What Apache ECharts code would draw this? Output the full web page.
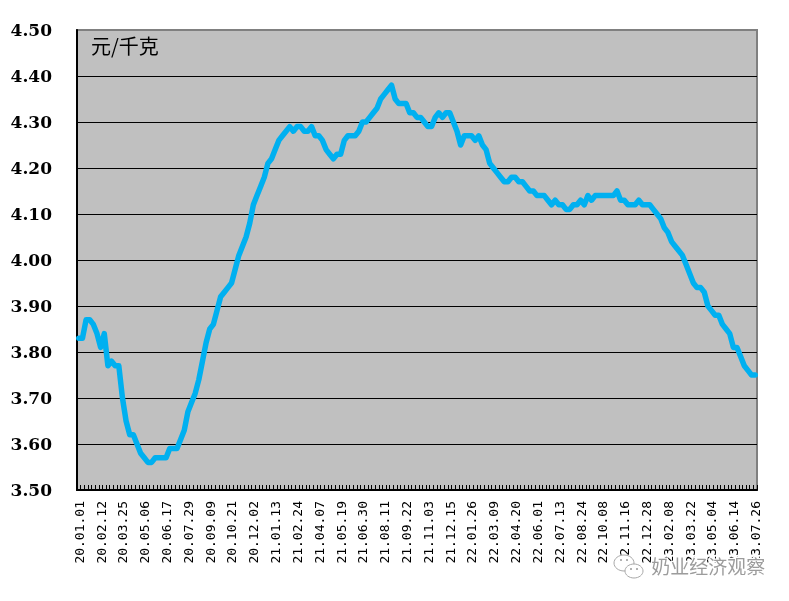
<!DOCTYPE html>
<html><head><meta charset="utf-8">
<style>html,body{margin:0;padding:0;background:#fff}#c{width:789px;height:601px}</style>
<script src="https://cdn.jsdelivr.net/npm/echarts@6/dist/echarts.min.js"></script>
</head><body><div id="c"></div>
<script>
const unitLabel = '元/千克';
const watermark = '奶业经济观察';
const tickLabels = ['20.01.01','20.02.12','20.03.25','20.05.06','20.06.17','20.07.29','20.09.09','20.10.21','20.12.02','21.01.13','21.02.24','21.04.07','21.05.19','21.06.30','21.08.11','21.09.22','21.11.03','21.12.15','22.01.26','22.03.09','22.04.20','22.06.01','22.07.13','22.08.24','22.10.08','22.11.16','22.12.28','23.02.08','23.03.22','23.05.04','23.06.14','23.07.26'];
const prices = [
3.83,3.83,3.87,3.87,3.86,3.84,3.81,3.84,3.77,3.78,3.77,3.77,3.70,3.65,3.62,3.62,3.60,3.58,3.57,3.56,3.56,3.57,3.57,3.57,3.57,3.59,3.59,3.59,3.61,3.63,3.67,3.69,3.71,3.74,3.78,3.82,3.85,3.86,3.89,
3.92,3.93,3.94,3.95,3.98,4.01,4.03,4.05,4.08,4.12,4.14,4.16,4.18,4.21,4.22,4.24,4.26,4.27,4.28,4.29,4.28,4.29,4.29,4.28,4.28,4.29,4.27,4.27,4.26,4.24,4.23,4.22,4.23,4.23,4.26,4.27,4.27,4.27,4.28,4.30,4.30,4.31,4.32,4.33,4.35,4.36,4.37,4.38,4.35,4.34,
4.34,4.34,4.32,4.32,4.31,4.31,4.30,4.29,4.29,4.31,4.32,4.31,4.32,4.32,4.30,4.28,4.25,4.27,4.27,4.27,4.26,4.27,4.25,4.24,4.21,4.20,4.19,4.18,4.17,4.17,4.18,4.18,4.17,4.17,4.16,4.15,4.15,4.14,4.14,4.14,4.13,4.12,4.13,4.12,4.12,4.11,4.11,4.12,4.12,4.13,4.12,4.14,
4.13,4.14,4.14,4.14,4.14,4.14,4.14,4.15,4.13,4.13,4.12,4.12,4.12,4.13,4.12,4.12,4.12,4.11,4.10,4.09,4.07,4.06,4.04,4.03,4.02,4.01,3.99,3.97,3.95,3.94,3.94,3.93,3.90,3.89,3.88,3.88,3.86,3.85,3.84,3.81,3.81,3.79,3.77,3.76,3.75,3.75];
const categories = prices.map((_, i) => i % 6 === 0 ? tickLabels[i / 6] : '');

const chart = echarts.init(document.getElementById('c'), null, {renderer: 'canvas'});
const bubble = (cx, cy, rx, ry) => ({type: 'ellipse', silent: true, shape: {cx, cy, rx, ry}, style: {fill: '#fff', stroke: '#a8a8a8', lineWidth: 1}});
const dot = (cx, cy) => ({type: 'circle', silent: true, shape: {cx, cy, r: 1}, style: {fill: '#999'}});
chart.setOption({
  animation: false,
  backgroundColor: '#fff',
  grid: {show: true, left: 77, top: 30, width: 680, height: 460, backgroundColor: '#C0C0C0', borderColor: '#808080', borderWidth: 2},
  title: {text: unitLabel, left: 86, top: 31, textStyle: {fontFamily: '"Noto Sans CJK SC"', fontSize: 20, fontWeight: 'normal', color: '#000'}},
  xAxis: {
    type: 'category', data: categories, boundaryGap: true,
    axisLine: {lineStyle: {color: '#000', width: 2}},
    axisTick: {show: true, interval: 0, inside: true, length: 5, lineStyle: {color: '#000', width: 1}},
    axisLabel: {interval: 5, rotate: 90, margin: 11, verticalAlign: 'top', lineHeight: 3, fontFamily: '"DejaVu Sans Mono"', fontSize: 13, color: '#000'},
    splitLine: {show: false}
  },
  yAxis: {
    type: 'value', min: 3.5, max: 4.5, interval: 0.1,
    axisLine: {show: true, lineStyle: {color: '#000', width: 2}},
    axisTick: {show: false},
    axisLabel: {margin: 25, verticalAlign: 'top', lineHeight: 3, fontFamily: '"DejaVu Serif"', fontWeight: 'bold', fontSize: 17, color: '#000', formatter: v => v.toFixed(2)},
    splitLine: {show: true, showMaxLine: false, showMinLine: false, lineStyle: {color: '#000', width: 1}}
  },
  series: [{type: 'line', data: prices, symbol: 'none', smooth: false, lineStyle: {color: '#00B0F0', width: 5.5, join: 'round', cap: 'round'}}],
  graphic: [
    {type: 'text', left: 650, top: 556, silent: true, z: 10, style: {text: watermark, font: '19px "Noto Sans CJK SC"', fill: '#9c9c9c', stroke: '#fff', lineWidth: 2.5}},
    Object.assign(bubble(624, 563, 10, 8), {z: 10}),
    Object.assign(bubble(634, 571, 9, 7), {z: 11}),
    Object.assign(dot(621, 560), {z: 12}), Object.assign(dot(627, 560), {z: 12}),
    Object.assign(dot(631, 569), {z: 12}), Object.assign(dot(637, 569), {z: 12})
  ]
});
</script></body></html>
